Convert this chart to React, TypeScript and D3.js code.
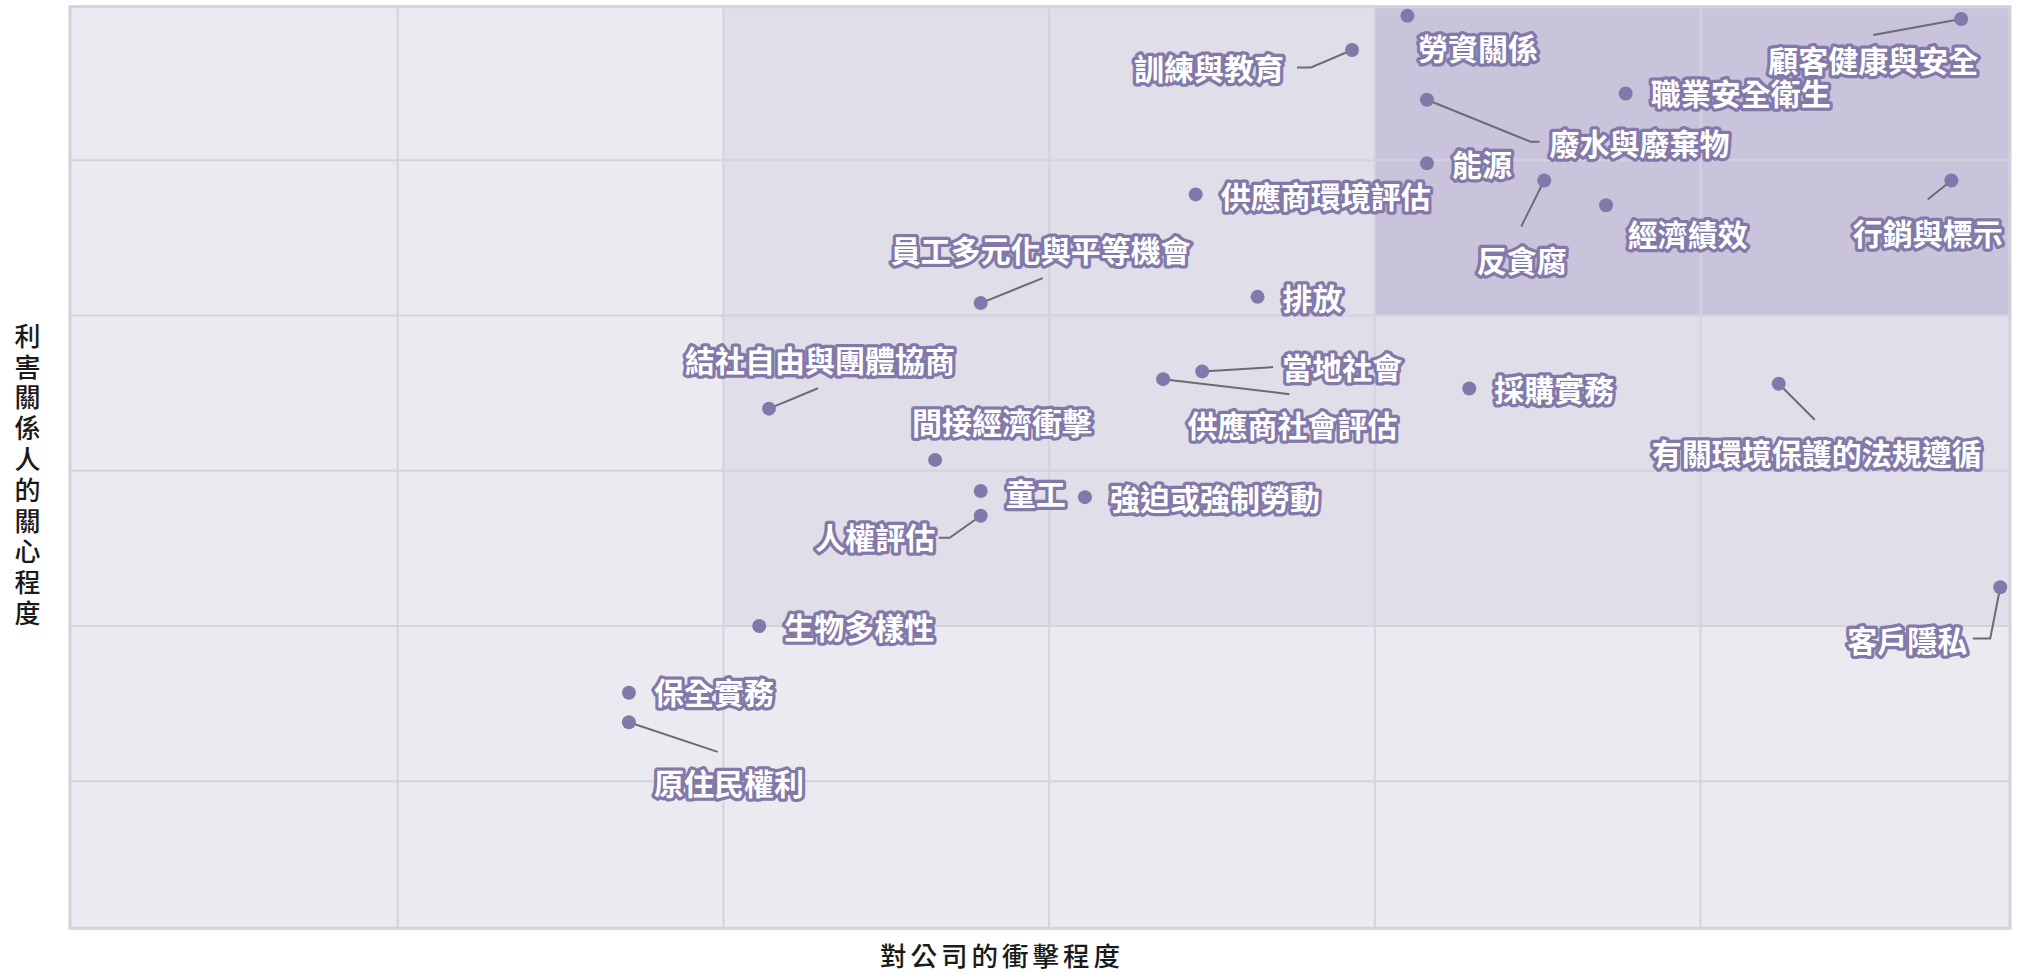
import React from "react";
import * as d3 from "d3";

// ---- data ----
const topics = [
  "勞資關係", "顧客健康與安全", "訓練與教育", "職業安全衛生", "廢水與廢棄物",
  "能源", "反貪腐", "經濟績效", "行銷與標示", "供應商環境評估",
  "員工多元化與平等機會", "排放", "結社自由與團體協商", "間接經濟衝擊", "當地社會",
  "供應商社會評估", "童工", "強迫或強制勞動", "人權評估", "生物多樣性",
  "採購實務", "有關環境保護的法規遵循", "客戶隱私", "保全實務", "原住民權利",
];
// x: 對公司的衝擊程度
const impact = [
  4.10, 5.80, 3.93, 4.77, 4.16,
  4.16, 4.52, 4.71, 5.77, 3.45,
  2.79, 3.64, 2.14, 2.65, 3.47,
  3.35, 2.79, 3.11, 2.79, 2.11,
  4.29, 5.24, 5.92, 1.71, 1.71,
];
// y: 利害關係人的關心程度
const concern = [
  5.93, 5.91, 5.71, 5.43, 5.39,
  4.98, 4.87, 4.71, 4.87, 4.78,
  4.08, 4.12, 3.40, 3.07, 3.64,
  3.59, 2.87, 2.83, 2.71, 2.00,
  3.53, 3.56, 2.25, 1.57, 1.38,
];
const gridTicks = [1, 2, 3, 4, 5];
const zoneThresholds = [2, 4];
const xTitle = "對公司的衝擊程度";
const yTitle = "利害關係人的關心程度";

// ---- label layout (pixel offsets relative to the dot) ----
type Lay = { dx: number; dy: number; anchor: "start" | "middle"; leader?: [number, number][] };
const R = (dy = 0): Lay => ({ dx: 25, dy, anchor: "start" });
const layout: Record<string, Lay> = {
  "勞資關係": { dx: 10.5, dy: 31, anchor: "start" },
  "顧客健康與安全": { dx: -88, dy: 40, anchor: "middle", leader: [[-88, 16]] },
  "訓練與教育": { dx: -143, dy: 17, anchor: "middle", leader: [[-41, 17.4], [-55, 17.4]] },
  "職業安全衛生": R(-1),
  "廢水與廢棄物": { dx: 212.6, dy: 42, anchor: "middle", leader: [[103.6, 42], [112.6, 42]] },
  "能源": R(0),
  "反貪腐": { dx: -22.5, dy: 78.3, anchor: "middle", leader: [[-23, 46]] },
  "經濟績效": { dx: 21.6, dy: 27.5, anchor: "start" },
  "行銷與標示": { dx: -23.7, dy: 51.5, anchor: "middle", leader: [[-23.7, 19]] },
  "供應商環境評估": R(1),
  "員工多元化與平等機會": { dx: 60, dy: -53.7, anchor: "middle", leader: [[62, -25]] },
  "排放": R(0),
  "結社自由與團體協商": { dx: 51, dy: -49.7, anchor: "middle", leader: [[49, -20.4]] },
  "間接經濟衝擊": { dx: 67, dy: -39, anchor: "middle" },
  "當地社會": { dx: 140, dy: -5.5, anchor: "middle", leader: [[70.8, -4.3]] },
  "供應商社會評估": { dx: 129.3, dy: 45, anchor: "middle", leader: [[126.3, 15]] },
  "童工": R(1.5),
  "強迫或強制勞動": R(0),
  "人權評估": { dx: -105.5, dy: 20, anchor: "middle", leader: [[-31, 22], [-42, 22]] },
  "生物多樣性": R(0),
  "採購實務": R(0),
  "有關環境保護的法規遵循": { dx: 38, dy: 68.5, anchor: "middle", leader: [[36, 36]] },
  "客戶隱私": { dx: -93, dy: 52, anchor: "middle", leader: [[-10, 51.3], [-27.5, 51.3]] },
  "保全實務": R(-2),
  "原住民權利": { dx: 100, dy: 60, anchor: "middle", leader: [[88.7, 29.6]] },
};

const W = 2017;
const H = 972;
const X0 = 70, X1 = 2010, Y0 = 6.7, Y1 = 928.3;
const CJK = "'Noto Sans CJK TC', 'Noto Sans CJK SC', 'Noto Sans', sans-serif";

export default function App() {
  const x = d3.scaleLinear().domain([-0.006, 5.95]).range([X0, X1]);
  const y = d3.scaleLinear().domain([0.053, 5.989]).range([Y1, Y0]);
  const [xd0, xd1] = x.domain();
  const [yd0, yd1] = y.domain();
  const zoneFills = ["#e0dee9", "#c9c3dc"];

  const pts = topics.map((t, i) => ({ t, cx: x(impact[i]), cy: y(concern[i]) }));

  return (
    <svg
      width={W}
      height={H}
      style={{ position: "absolute", left: 0, top: 0, background: "#ffffff" }}
      fontFamily={CJK}
    >
      {/* background */}
      <rect x={x(xd0)} y={y(yd1)} width={x(xd1) - x(xd0)} height={y(yd0) - y(yd1)} fill="#ebeaf0" />
      {zoneThresholds.map((th, i) => (
        <rect
          key={"z" + i}
          x={x(th)}
          y={y(yd1)}
          width={x(xd1) - x(th)}
          height={y(th) - y(yd1)}
          fill={zoneFills[i]}
        />
      ))}
      {/* grid */}
      {gridTicks.map((v) => (
        <line key={"gx" + v} x1={x(v)} x2={x(v)} y1={y(yd0)} y2={y(yd1)} stroke="#d4d2dc" strokeWidth={2} />
      ))}
      {gridTicks.map((v) => (
        <line key={"gy" + v} x1={x(xd0)} x2={x(xd1)} y1={y(v)} y2={y(v)} stroke="#d4d2dc" strokeWidth={2.2} />
      ))}
      <rect
        x={x(xd0)}
        y={y(yd1)}
        width={x(xd1) - x(xd0)}
        height={y(yd0) - y(yd1)}
        fill="none"
        stroke="#d3d1db"
        strokeWidth={3}
      />
      {/* leaders */}
      {pts.map((p) => {
        const L = layout[p.t];
        if (!L.leader) return null;
        const d = [[p.cx, p.cy], ...L.leader.map(([a, b]) => [p.cx + a, p.cy + b])];
        return (
          <polyline
            key={"l" + p.t}
            points={d.map((q) => q.join(",")).join(" ")}
            fill="none"
            stroke="#6d6b72"
            strokeWidth={2}
          />
        );
      })}
      {/* dots */}
      {pts.map((p) => (
        <circle key={"c" + p.t} cx={p.cx} cy={p.cy} r={7} fill="#8279aa" />
      ))}
      {/* labels */}
      {pts.map((p) => {
        const L = layout[p.t];
        return (
          <text
            key={"t" + p.t}
            x={p.cx + L.dx}
            y={p.cy + L.dy}
            textAnchor={L.anchor}
            dominantBaseline="central"
            fontSize={30}
            fontWeight={700}
            fill="#ffffff"
            stroke="#8279aa"
            strokeWidth={6.5}
            strokeLinejoin="round"
            paintOrder="stroke"
          >
            {p.t}
          </text>
        );
      })}
      {/* axis titles */}
      <text
        x={1002}
        y={954}
        textAnchor="middle"
        dominantBaseline="central"
        fontSize={26.5}
        fontWeight={500}
        letterSpacing={4}
        fill="#1a1a1a"
      >
        {xTitle}
      </text>
      <text
        x={27.5}
        y={323}
        writingMode="vertical-rl"
        textAnchor="start"
        fontSize={26}
        fontWeight={500}
        letterSpacing={4.8}
        fill="#1a1a1a"
      >
        {yTitle}
      </text>
    </svg>
  );
}
